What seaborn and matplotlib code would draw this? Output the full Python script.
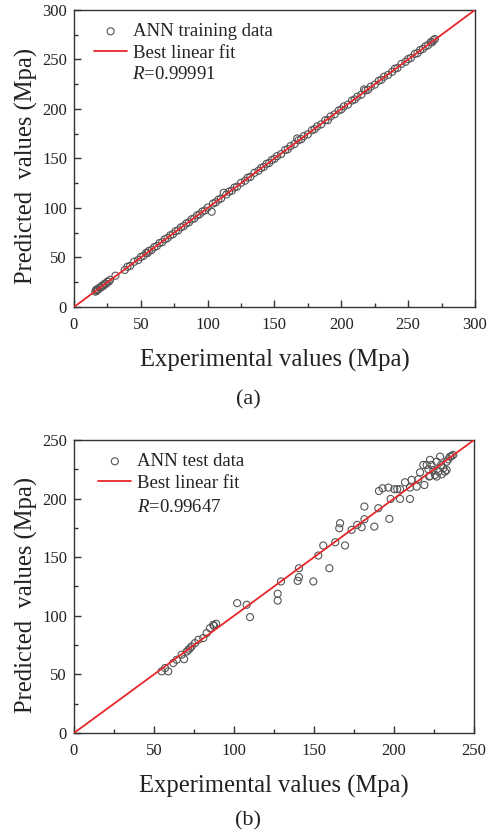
import pandas as pd
import matplotlib.pyplot as plt
import seaborn as sns
from matplotlib.ticker import MultipleLocator

# =======================
# 1. DATA
# =======================
train_exp = [16, 16.5, 17, 17.5, 18, 19, 20, 21, 22, 23, 24, 25, 26, 27, 31, 38, 40,
             42, 45, 48, 50, 52, 54, 55, 56, 58, 60, 62, 64, 66, 68, 70, 72, 74, 76,
             78, 80, 82, 84, 86, 88, 90, 92, 94, 96, 98, 100, 103, 104, 106, 108,
             110, 112, 114, 116, 118, 120, 122, 125, 128, 130, 132, 135, 138, 140,
             142, 144, 146, 148, 150, 152, 155, 158, 160, 162, 165, 167, 168, 170,
             172, 175, 178, 180, 182, 185, 188, 190, 192, 195, 198, 200, 202, 205,
             208, 210, 212, 215, 217, 218, 220, 222, 225, 228, 230, 232, 235, 238,
             240, 242, 245, 248, 250, 252, 255, 257, 259, 261, 263, 265, 267, 268,
             269, 270]
train_pred = [15.5, 17.2, 16.4, 18.1, 17.6, 19.4, 19.5, 21.6, 21.3, 23.5, 23.4, 25.6,
              25.5, 27.4, 31.6, 37.4, 40.6, 41.5, 45.6, 47.4, 50.5, 51.6, 54.7, 54.4,
              56.6, 57.5, 60.4, 61.5, 64.6, 65.4, 68.5, 69.6, 72.4, 73.5, 76.6, 77.4,
              80.5, 81.6, 84.4, 85.5, 88.6, 89.4, 92.5, 93.6, 96.4, 97.5, 100.4, 96.2,
              104.5, 105.6, 108.4, 109.5, 115.3, 113.6, 116.5, 117.4, 120.6, 121.5,
              125.4, 127.5, 130.6, 131.4, 135.5, 137.6, 140.4, 141.5, 144.6, 145.4,
              148.5, 149.6, 152.4, 154.5, 158.6, 159.4, 162.5, 164.6, 170.2, 168.4,
              169.5, 172.6, 174.4, 178.5, 179.6, 182.4, 184.5, 188.6, 188.7, 192.5,
              194.6, 198.4, 199.5, 202.6, 204.4, 208.5, 209.6, 212.4, 214.5, 219.8,
              218.6, 219.4, 222.5, 224.6, 228.4, 229.5, 232.6, 234.4, 237.5, 240.6,
              241.4, 245.5, 247.6, 250.4, 251.5, 255.6, 256.4, 259.5, 260.6, 263.4,
              264.5, 267.6, 267.4, 269.5, 270.6]

test_exp = [54.8, 58.9, 56.9, 62, 64.2, 68.8, 67.3, 70.5, 71.5, 72.5, 73.5, 75.6,
            77.7, 80.8, 82.9, 85, 87, 88.8, 87.5, 102, 107.9, 110, 127.3, 127.3,
            129.4, 139.8, 140.6, 140.6, 149.6, 152.7, 155.8, 159.6, 163.3, 166.3,
            165.8, 169.4, 173.5, 177, 179.8, 181.5, 181.5, 187.7, 190.2, 190.6,
            192.9, 196.5, 197.1, 197.9, 200.2, 202, 203.8, 203.8, 206.9, 210, 210,
            211, 214.2, 215.2, 216.3, 218.3, 219, 220.4, 221.5, 222.5, 223.5, 224.6,
            225.6, 226.7, 227.7, 228.8, 229.4, 230.8, 231.9, 232.9, 232.9, 234, 235,
            236, 237, 222.5, 222, 226.7, 229.8]
test_pred = [52.6, 52.6, 55.4, 59.7, 62.5, 63, 66.8, 69.5, 71, 72.3, 73.9, 76.7,
             79.5, 81, 85.2, 89.5, 92.3, 93.2, 91.5, 110.8, 109.4, 98.9, 118.8, 113,
             129.3, 129.8, 133, 140.6, 129.3, 151.4, 160, 140.6, 162.8, 179, 174.7,
             160, 173.3, 177.6, 175.6, 193.2, 182.4, 176.1, 191.8, 206.5, 208.8,
             209.4, 182.7, 199.7, 208, 208, 199.7, 208, 213.9, 199.7, 209.4, 215.9,
             210.2, 216.5, 222.4, 228.7, 211.6, 228.7, 225, 219.3, 228.7, 224.4,
             220.2, 231.5, 223, 235.8, 228.7, 225.9, 223, 231.5, 224.4, 233.5, 235.8,
             236.4, 237.2, 233, 218.8, 218.8, 220.7]

axis_max_a = 300
axis_max_b = 250
r_a = 0.99991
r_b = 0.99647

# =======================
# 2. STYLE
# =======================
sns.set_style('white')
plt.rcParams['font.family'] = ['Liberation Serif', 'DejaVu Serif']
plt.rcParams['mathtext.fontset'] = 'custom'
plt.rcParams['mathtext.rm'] = 'Liberation Serif'
plt.rcParams['mathtext.it'] = 'Liberation Serif:italic'

fig = plt.figure(figsize=(4.89, 8.36), dpi=100)
ax_a = fig.add_axes([0.1513, 0.6328, 0.820, 0.3553])
ax_b = fig.add_axes([0.1513, 0.1232, 0.818, 0.3505])

panels = [
    (ax_a, train_exp, train_pred, axis_max_a, r_a, 'ANN training data', '(a)',
     0.5215, 0.145, 0.781, 0.475, 0.0175),
    (ax_b, test_exp, test_pred, axis_max_b, r_b, 'ANN test data', '(b)',
     0.018, 0.158, 0.771, 0.471, 0.028),
]

# =======================
# 3. PLOTS
# =======================
for ax, xs, ys, vmax, r, lab, cap, cap_y, rx, ry, ylab_y, leg_x in panels:
    df = pd.DataFrame({'exp': xs, 'pred': ys})
    sns.scatterplot(data=df, x='exp', y='pred', ax=ax, marker='o', s=26,
                    facecolor='none', edgecolor='#555555', linewidth=0.8,
                    label=lab, zorder=2)
    fit = pd.DataFrame({'x': [0, vmax], 'y': [0, vmax]})
    sns.lineplot(data=fit, x='x', y='y', ax=ax, color='#e8262a', linewidth=1.3,
                 label='Best linear fit', zorder=3)

    ax.set_xlim(0, vmax)
    ax.set_ylim(0, vmax)
    ax.xaxis.set_major_locator(MultipleLocator(50))
    ax.yaxis.set_major_locator(MultipleLocator(50))
    ax.xaxis.set_minor_locator(MultipleLocator(25))
    ax.yaxis.set_minor_locator(MultipleLocator(25))
    ax.tick_params(which='both', direction='in', bottom=True, left=True,
                   top=False, right=False, labelsize=12, colors='#333333',
                   labelcolor='#222222')
    ax.tick_params(axis='x', which='major', pad=7)
    ax.tick_params(axis='y', which='major', pad=5)
    ax.tick_params(which='major', length=5, width=1)
    ax.tick_params(which='minor', length=3, width=1)
    for sp in ax.spines.values():
        sp.set_color('#333333')
        sp.set_linewidth(1.0)

    ax.set_xlabel('Experimental values (Mpa)', fontsize=17.7, color='#222222', labelpad=12)
    ax.set_ylabel('Predicted  values (Mpa)', fontsize=17.7, color='#222222')
    ax.yaxis.set_label_coords(-0.09, ylab_y)

    leg = ax.legend(loc='upper left', frameon=False, fontsize=13.5,
                    handlelength=1.76, handletextpad=0.32, labelspacing=0.25,
                    borderaxespad=0.3, bbox_to_anchor=(leg_x, 1.0))
    for t in leg.get_texts():
        t.set_color('#222222')
    ax.text(rx, ry, '$R$=%.5f' % r, transform=ax.transAxes,
            fontsize=13.5, color='#222222', va='center')

    fig.text(0.507, cap_y, cap, fontsize=16, ha='center', va='center', color='#222222')

plt.savefig('out.png', dpi=100)
